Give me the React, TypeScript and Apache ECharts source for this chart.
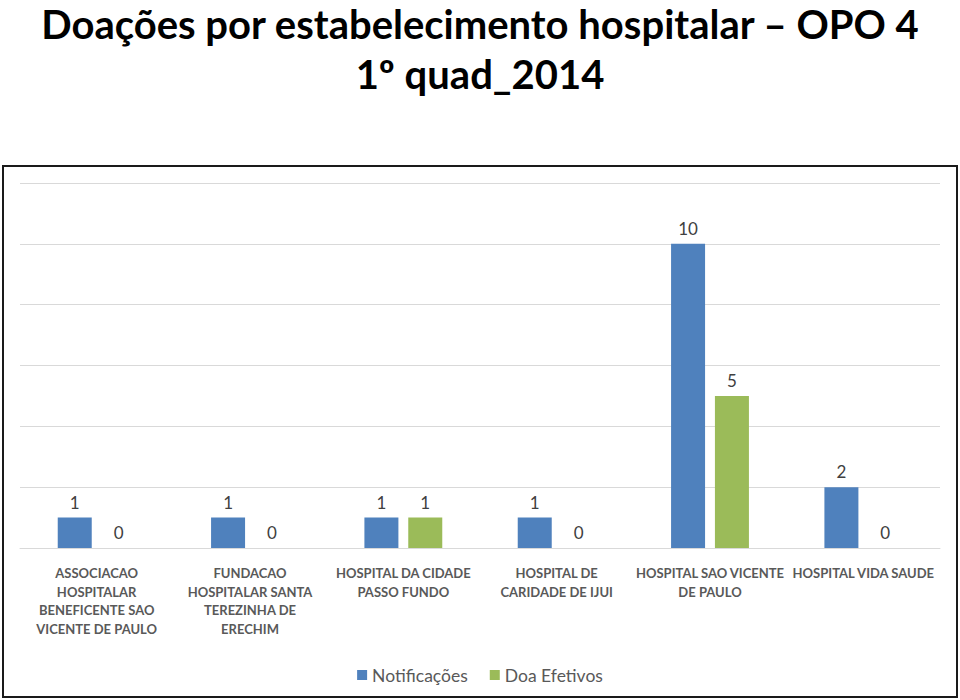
import React, { useEffect, useRef } from "react";
import * as echarts from "echarts";

const categories = [
  "ASSOCIACAO\nHOSPITALAR\nBENEFICENTE SAO\nVICENTE DE PAULO",
  "FUNDACAO\nHOSPITALAR SANTA\nTEREZINHA DE\nERECHIM",
  "HOSPITAL DA CIDADE\nPASSO FUNDO",
  "HOSPITAL DE\nCARIDADE DE IJUI",
  "HOSPITAL SAO VICENTE\nDE PAULO",
  "HOSPITAL VIDA SAUDE",
];
const notificacoes = [1, 1, 1, 1, 10, 2];
const doaEfetivos = [0, 0, 1, 0, 5, 0];
const titleLines = ["Doações por estabelecimento hospitalar – OPO 4", "1º quad_2014"];

const FONT = "Lato, 'Liberation Sans', sans-serif";

export default function App() {
  const ref = useRef<HTMLDivElement>(null);
  useEffect(() => {
    document.body.style.margin = "0";
    const chart = echarts.init(ref.current!, null, { renderer: "svg" });
    const labelCfg = {
      show: true,
      position: "top",
      distance: 7,
      fontFamily: FONT,
      fontSize: 17,
      color: "#404040",
    };
    const titleStyle = {
      fontFamily: FONT,
      fontWeight: "bold",
      fontSize: 40,
      lineHeight: 48,
      color: "#000000",
    };
    chart.setOption({
      animation: false,
      backgroundColor: "#ffffff",
      title: [
        { text: titleLines[0], left: "center", top: 0, padding: 0, textStyle: titleStyle },
        { text: titleLines[1], left: "center", top: 50, padding: 0, textStyle: titleStyle },
      ],
      graphic: [
        {
          type: "rect",
          shape: { x: 3, y: 166, width: 954, height: 531 },
          style: { fill: "none", stroke: "#1a1a1a", lineWidth: 2 },
          silent: true,
        },
      ],
      legend: {
        top: 661,
        left: "center",
        itemWidth: 10,
        itemHeight: 10,
        itemGap: 22,
        icon: "rect",
        textStyle: { fontFamily: FONT, fontSize: 17.5, color: "#595959" },
        data: ["Notificações", "Doa Efetivos"],
      },
      grid: { left: 20, right: 20, top: 183, bottom: 152, containLabel: false },
      xAxis: {
        type: "category",
        data: categories,
        axisLine: { lineStyle: { color: "#D9D9D9" } },
        axisTick: { show: false },
        axisLabel: {
          interval: 0,
          margin: 16,
          fontFamily: FONT,
          fontWeight: "bold",
          fontSize: 13,
          lineHeight: 18.5,
          color: "#595959",
          verticalAlign: "top",
        },
      },
      yAxis: {
        type: "value",
        min: 0,
        max: 12,
        interval: 2,
        axisLabel: { show: false },
        axisLine: { show: false },
        axisTick: { show: false },
        splitLine: { lineStyle: { color: "#D9D9D9" } },
      },
      series: [
        {
          name: "Notificações",
          type: "bar",
          data: notificacoes,
          barWidth: 34,
          barGap: "29%",
          itemStyle: { color: "#4F81BD" },
          label: labelCfg,
        },
        {
          name: "Doa Efetivos",
          type: "bar",
          data: doaEfetivos,
          barWidth: 34,
          itemStyle: { color: "#9BBB59" },
          label: labelCfg,
        },
      ],
    });
    return () => chart.dispose();
  }, []);
  return <div ref={ref} style={{ width: 960, height: 700 }} />;
}
